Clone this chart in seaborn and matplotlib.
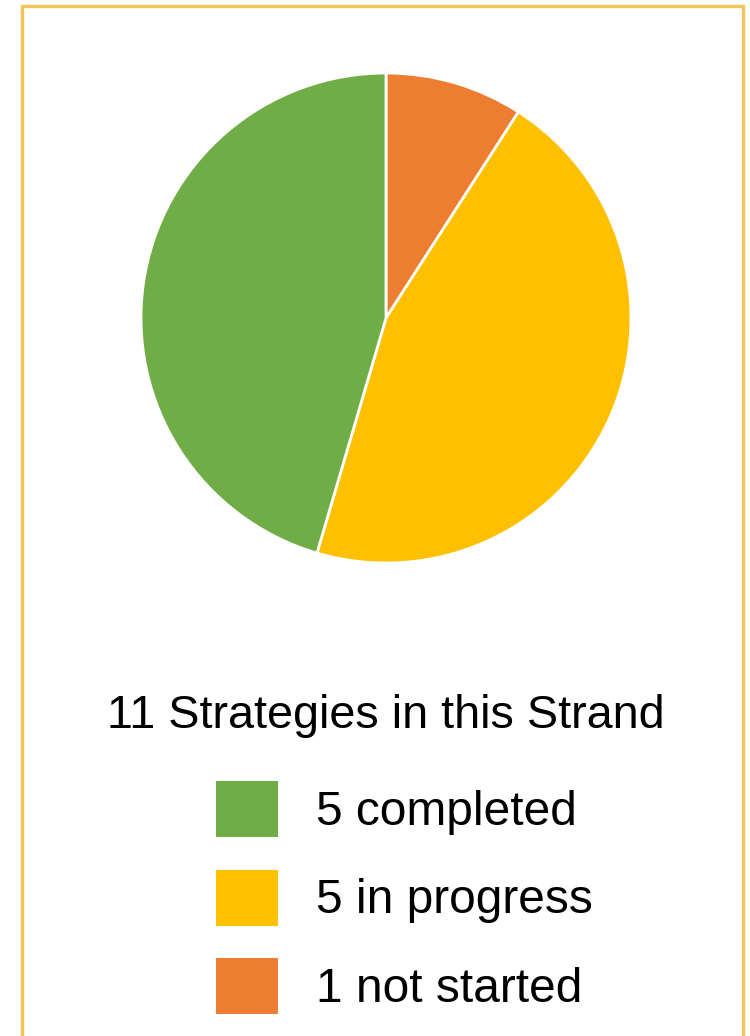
import matplotlib.pyplot as plt
import seaborn as sns
from matplotlib.patches import Rectangle

# Strategy status counts (pie goes clockwise from 12 o'clock)
statuses = ["not started", "in progress", "completed"]
counts = [1, 5, 5]
colors = ["#ED7D31", "#FFC000", "#70AD47"]

sns.set_theme(style="white")
plt.rcParams["font.family"] = ["Liberation Sans", "DejaVu Sans"]

W, H = 750, 1036
fig = plt.figure(figsize=(W / 100, H / 100), dpi=100)

# pie axes: square box in pixels
ax = fig.add_axes([141 / W, 1 - 563 / H, 490 / W, 490 / H])
wedges, _ = ax.pie(
    counts,
    colors=colors,
    startangle=90,
    counterclock=False,
    radius=1,
    wedgeprops={"edgecolor": "white", "linewidth": 2.0},
)
ax.set_xlim(-1, 1)
ax.set_ylim(-1, 1)
ax.axis("off")

# frame around the panel (bottom edge runs off the image)
fig.patches.append(
    Rectangle((22 / W, -0.05), 721 / W, 1.05 - 6 / H, transform=fig.transFigure,
              fill=False, edgecolor="#F2C45A", linewidth=2.4)
)

fig.text(386 / W, 1 - 716 / H, f"{sum(counts)} Strategies in this Strand",
         ha="center", va="center", fontsize=33.7, color="black")

labels = [f"{c} {s}" for c, s in zip(counts, statuses)]
leg = fig.legend(
    wedges[::-1], labels[::-1],
    loc="upper left",
    bbox_to_anchor=(216 / W, 1 - 781 / H),
    frameon=False,
    fontsize=34.5,
    labelcolor="black",
    handlelength=1.3,
    handleheight=1.42,
    handletextpad=0.78,
    labelspacing=0.68,
    borderpad=0,
    borderaxespad=0,
)
for h in leg.legend_handles:
    h.set_edgecolor("none")

fig.savefig("out.png", dpi=100)
